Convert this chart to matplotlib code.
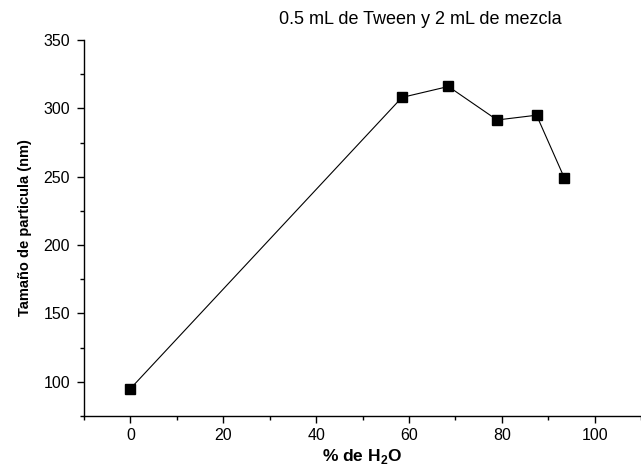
import matplotlib
matplotlib.use('Agg')
import matplotlib.pyplot as plt
from matplotlib.ticker import MultipleLocator

# data
agua = [0, 58.5, 68.5, 79, 87.5, 93.5]          # % de H2O
tamano = [95, 308, 316, 291.5, 295, 249]         # nm

plt.rcParams['font.family'] = ['Liberation Sans', 'DejaVu Sans']

fig = plt.figure(figsize=(6.41, 4.73), dpi=100)
ax = fig.add_axes([84/641, 57/473, 1 - 84/641, (416 - 40)/473])

ax.plot(agua, tamano, color='black', lw=0.8, marker='s', ms=6.5,
        mfc='black', mec='black')

ax.set_xlim(-10, 110)
ax.set_ylim(75, 350)
ax.xaxis.set_major_locator(MultipleLocator(20))
ax.xaxis.set_minor_locator(MultipleLocator(10))
ax.yaxis.set_major_locator(MultipleLocator(50))
ax.yaxis.set_minor_locator(MultipleLocator(25))
ax.set_yticks([100, 150, 200, 250, 300, 350])

for s in ['top', 'right']:
    ax.spines[s].set_visible(False)
for s in ['left', 'bottom']:
    ax.spines[s].set_linewidth(1.0)

ax.tick_params(which='major', direction='out', length=5, width=1, labelsize=11.5)
ax.tick_params(axis='y', which='major', pad=5)
ax.tick_params(which='minor', direction='out', length=3, width=1)

ax.set_xlabel('% de H$_\\mathregular{2}$O', fontsize=12.5, fontweight='bold', labelpad=3)
ax.set_ylabel('Tamaño de particula (nm)', fontsize=10.5, fontweight='bold', labelpad=8)

fig.text(420/641, 1 - 20/473, '0.5 mL de Tween y 2 mL de mezcla',
         ha='center', va='center', fontsize=13)

plt.savefig('out.png', dpi=100)
